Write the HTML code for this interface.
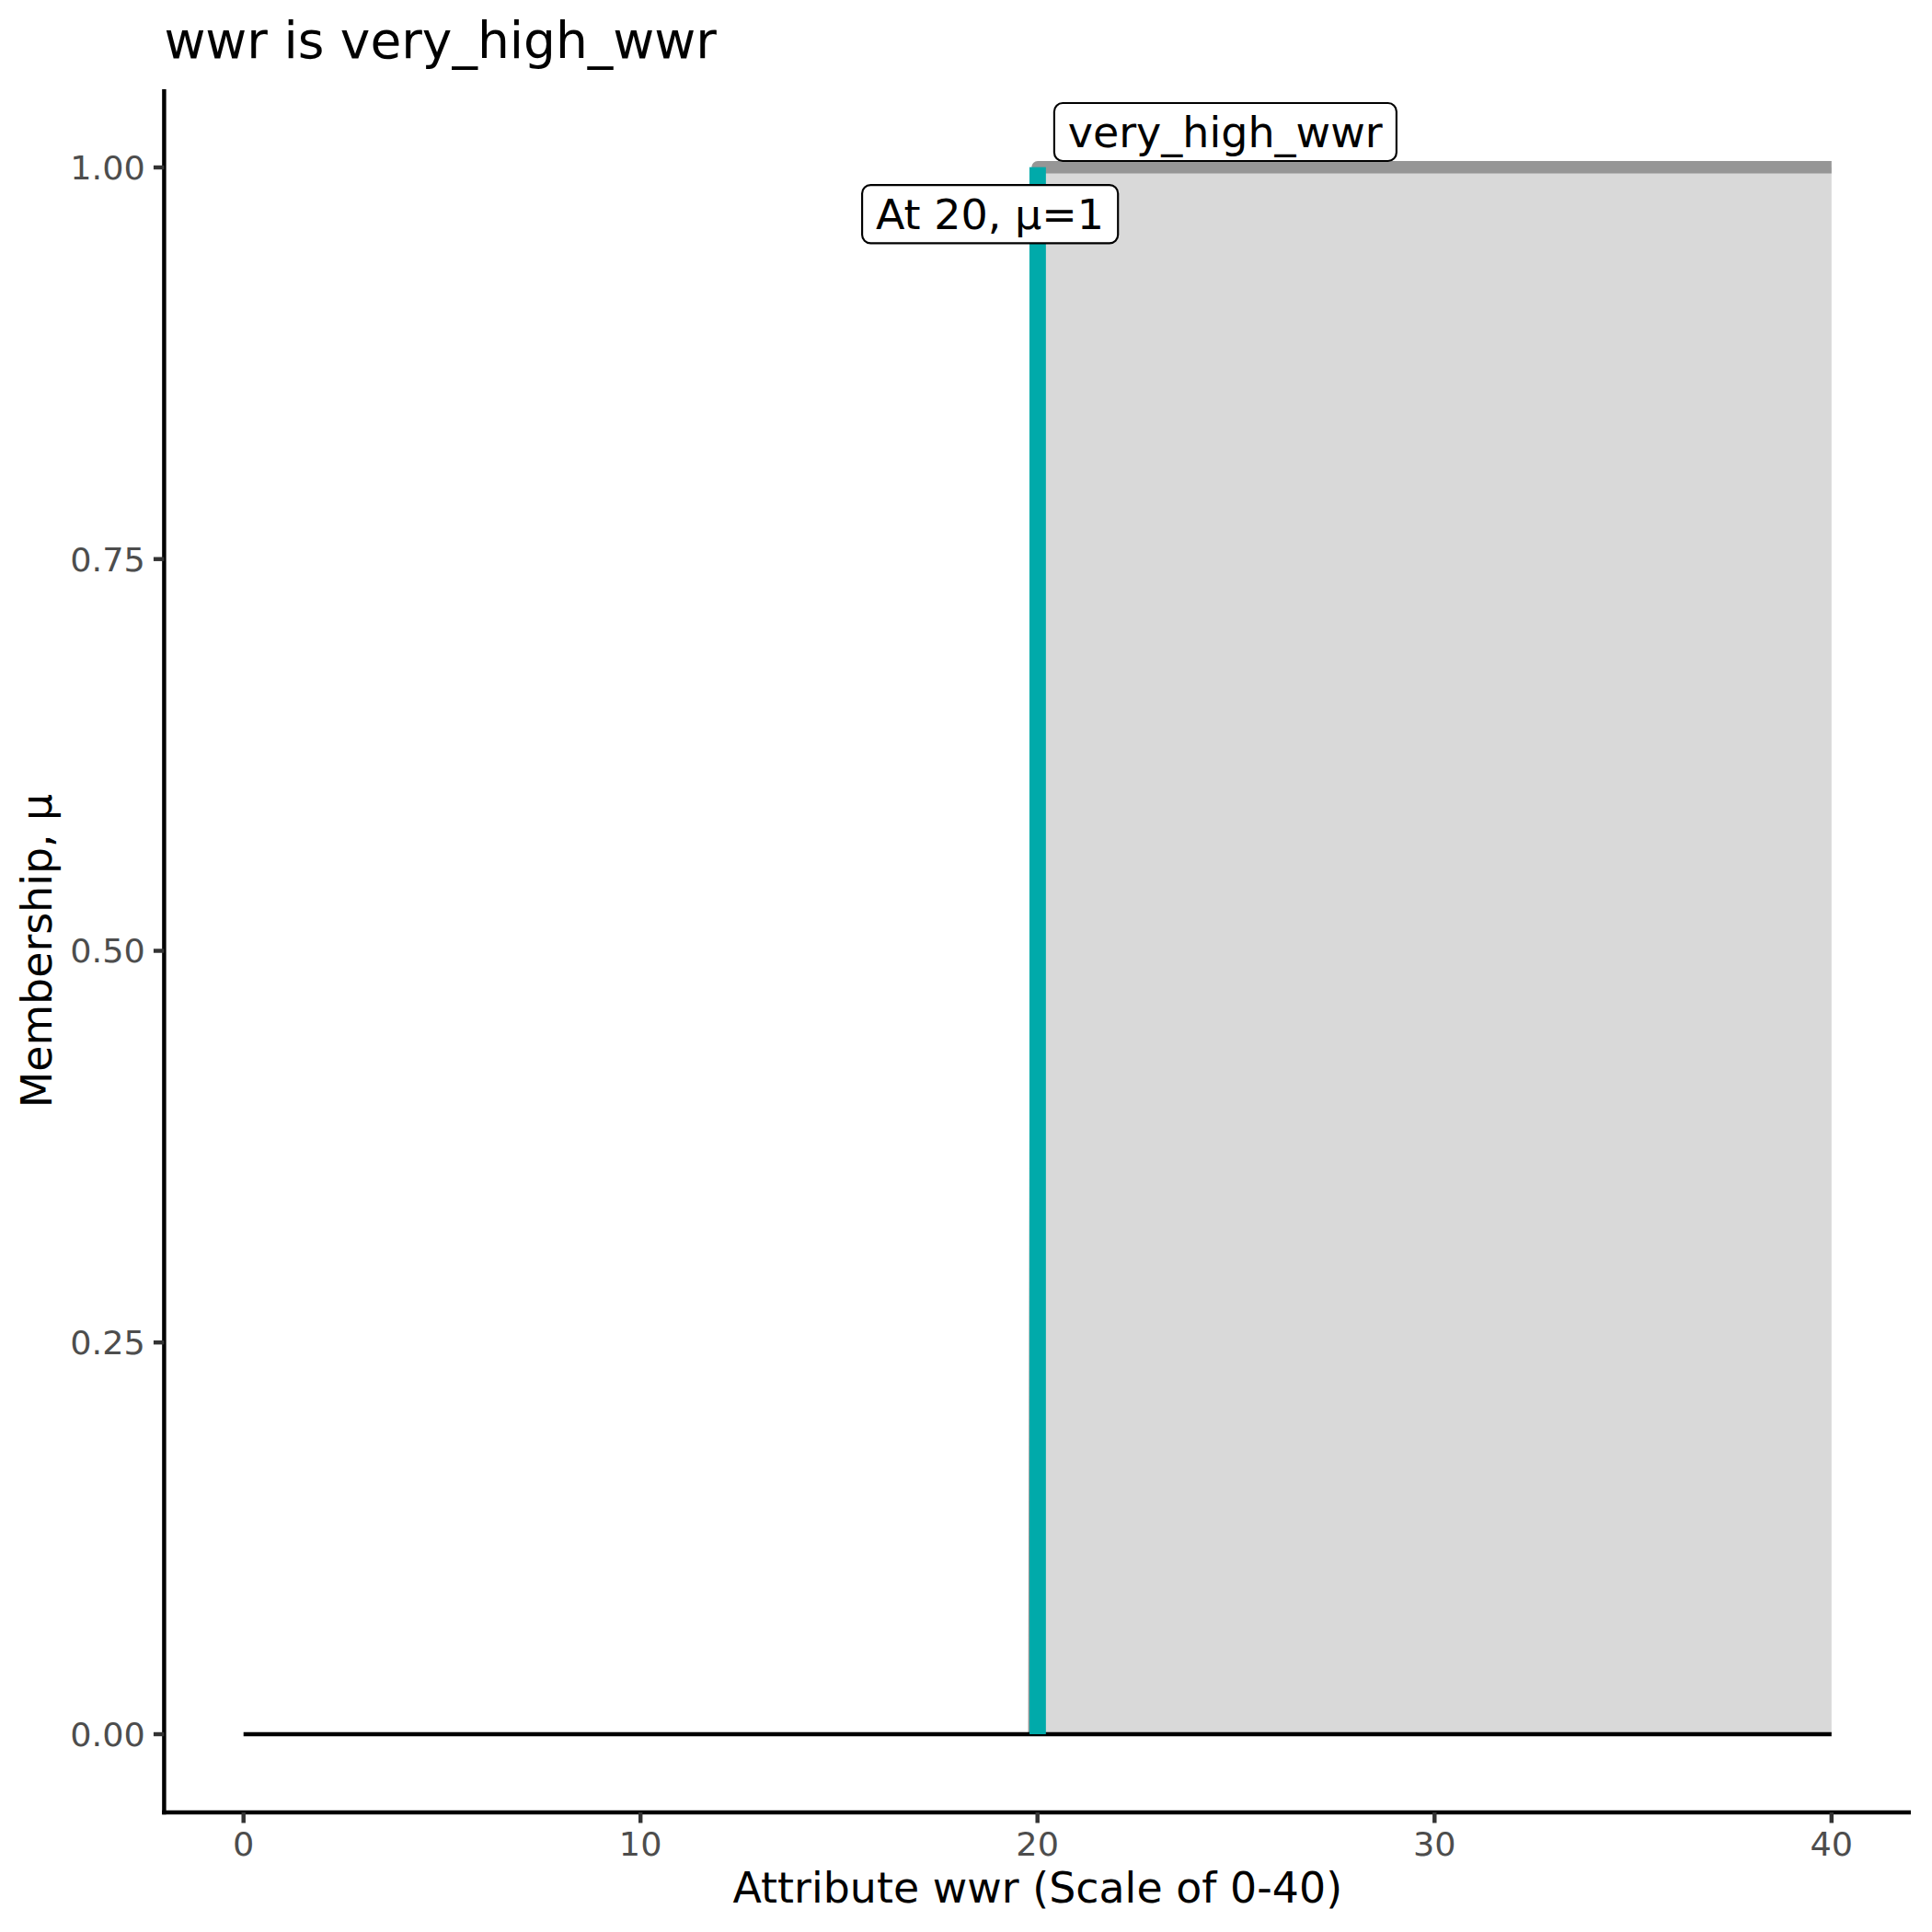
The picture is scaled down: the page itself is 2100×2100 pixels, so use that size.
<!DOCTYPE html>
<html lang="en">
<head>
<meta charset="utf-8">
<title>wwr is very_high_wwr</title>
<style>
html,body{margin:0;padding:0;background:#fff;}
body{width:2100px;height:2100px;overflow:hidden;}
svg{display:block;}
text{font-family:"DejaVu Sans","Liberation Sans",sans-serif;}
.tick{fill:#4d4d4d;font-size:36.67px;}
.lab{fill:#000;font-size:45.83px;}
.ttl{fill:#000;font-size:55px;}
.ann{fill:#000;font-size:46px;}
</style>
</head>
<body>
<svg width="2100" height="2100" viewBox="0 0 2100 2100">
<rect x="0" y="0" width="2100" height="2100" fill="#ffffff"/>
<!-- area fill -->
<path d="M1124.3 1885 L1128 181.7 L1990.8 181.7 L1990.8 1885 Z" fill="#d9d9d9"/>
<!-- membership line -->
<path d="M1124.3 1885 L1128 181.7 L1990.8 181.7" fill="none" stroke="#969696" stroke-width="13.5" stroke-linejoin="round" stroke-linecap="butt"/>
<!-- baseline -->
<line x1="264.7" y1="1885" x2="1990.8" y2="1885" stroke="#000" stroke-width="4.45"/>
<!-- teal marker -->
<rect x="1118.95" y="181.7" width="17.9" height="1703.3" fill="#00aaaa"/>
<!-- axes -->
<line x1="178.4" y1="96.9" x2="178.4" y2="1972.2" stroke="#000" stroke-width="4.45"/>
<line x1="176.2" y1="1970" x2="2077" y2="1970" stroke="#000" stroke-width="4.45"/>
<!-- y ticks -->
<g stroke="#333333" stroke-width="4.45">
<line x1="166.9" y1="182" x2="178.4" y2="182"/>
<line x1="166.9" y1="607.7" x2="178.4" y2="607.7"/>
<line x1="166.9" y1="1033.5" x2="178.4" y2="1033.5"/>
<line x1="166.9" y1="1459.2" x2="178.4" y2="1459.2"/>
<line x1="166.9" y1="1885" x2="178.4" y2="1885"/>
<line x1="264.7" y1="1970" x2="264.7" y2="1981.5"/>
<line x1="696.2" y1="1970" x2="696.2" y2="1981.5"/>
<line x1="1127.7" y1="1970" x2="1127.7" y2="1981.5"/>
<line x1="1559.3" y1="1970" x2="1559.3" y2="1981.5"/>
<line x1="1990.8" y1="1970" x2="1990.8" y2="1981.5"/>
</g>
<g class="tick" text-anchor="end">
<text transform="translate(157.9,195) scale(1,0.955)">1.00</text>
<text transform="translate(157.9,620.7) scale(1,0.955)">0.75</text>
<text transform="translate(157.9,1045.7) scale(1,0.955)">0.50</text>
<text transform="translate(157.9,1472.2) scale(1,0.955)">0.25</text>
<text transform="translate(157.9,1898) scale(1,0.955)">0.00</text>
</g>
<g class="tick" text-anchor="middle">
<text transform="translate(264.7,2017) scale(1,0.955)">0</text>
<text transform="translate(696.2,2017) scale(1,0.955)">10</text>
<text transform="translate(1127.7,2017) scale(1,0.955)">20</text>
<text transform="translate(1559.3,2017) scale(1,0.955)">30</text>
<text transform="translate(1990.8,2017) scale(1,0.955)">40</text>
</g>
<text class="lab" transform="translate(1127.8,2068)" text-anchor="middle" letter-spacing="0.03">Attribute wwr (Scale of 0-40)</text>
<text class="lab" transform="translate(56,1033.5) rotate(-90)" text-anchor="middle">Membership, µ</text>
<text class="ttl" x="178.4" y="63.3">wwr is very_high_wwr</text>
<!-- labels -->
<rect x="1145.9" y="112" width="372" height="63" rx="9.2" ry="9.2" fill="#fff" stroke="#000" stroke-width="2.15"/>
<text class="ann" transform="translate(1331.7,160) scale(1,0.99)" text-anchor="middle">very_high_wwr</text>
<rect x="937.1" y="201.1" width="278.1" height="63.25" rx="9.2" ry="9.2" fill="#fff" stroke="#000" stroke-width="2.15"/>
<text class="ann" transform="translate(1076,249) scale(1,0.975)" text-anchor="middle">At 20, µ=1</text>
</svg>
</body>
</html>
